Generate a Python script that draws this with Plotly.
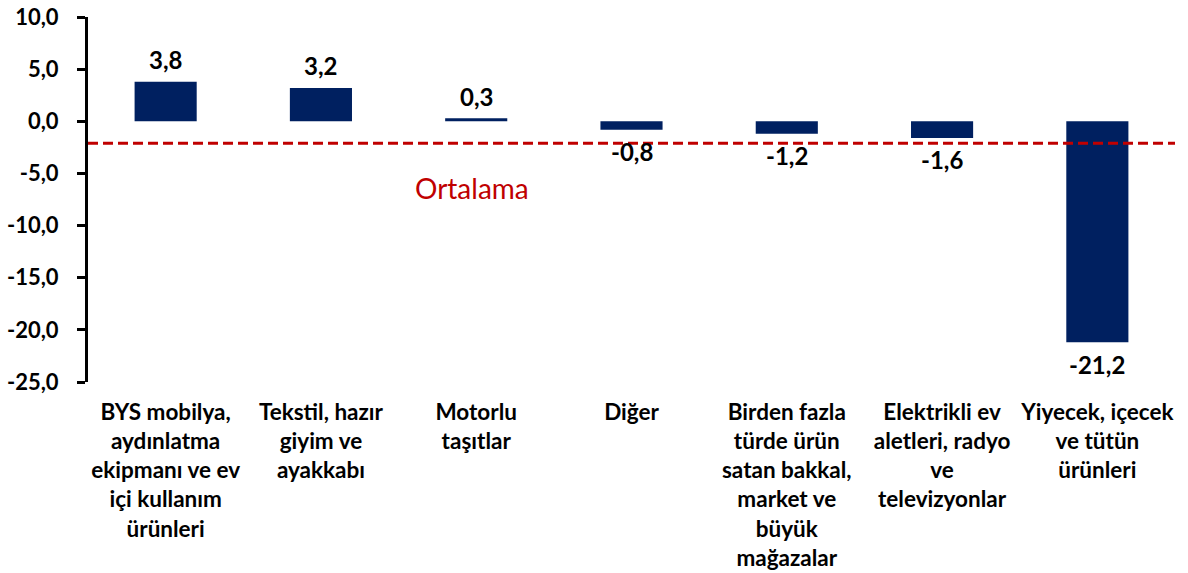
import plotly.graph_objects as go

categories = [
    "BYS mobilya,<br>aydınlatma<br>ekipmanı ve ev<br>içi kullanım<br>ürünleri",
    "Tekstil, hazır<br>giyim ve<br>ayakkabı",
    "Motorlu<br>taşıtlar",
    "Diğer",
    "Birden fazla<br>türde ürün<br>satan bakkal,<br>market ve<br>büyük<br>mağazalar",
    "Elektrikli ev<br>aletleri, radyo<br>ve<br>televizyonlar",
    "Yiyecek, içecek<br>ve tütün<br>ürünleri",
]
values = [3.8, 3.2, 0.3, -0.8, -1.2, -1.6, -21.2]
average_value = -2.1
average_label = "Ortalama"
y_ticks = [10, 5, 0, -5, -10, -15, -20, -25]
y_tick_labels = ["10,0", "5,0", "0,0", "-5,0", "-10,0", "-15,0", "-20,0", "-25,0"]

FONT = "Lato"
x_pos = list(range(len(categories)))
labels = [f"{v:.1f}".replace(".", ",") for v in values]

fig = go.Figure()
fig.add_trace(go.Bar(
    x=x_pos, y=values, width=0.4,
    marker=dict(color="#002060", line=dict(width=0)),
    showlegend=False, hoverinfo="skip",
))
# data labels
for xi, v, lab in zip(x_pos, values, labels):
    fig.add_annotation(
        x=xi, y=v, text=f"<b>{lab}</b>", showarrow=False,
        yanchor="middle", yshift=22 if v >= 0 else -22,
        font=dict(family=FONT, size=24, color="black"),
    )
# average dashed line
fig.add_trace(go.Scatter(
    x=[-0.5, len(categories) - 0.5], y=[average_value, average_value],
    mode="lines", line=dict(color="#C00000", width=3, dash="10px,5px"),
    showlegend=False, hoverinfo="skip",
))
fig.add_annotation(
    x=1.97, y=-6.4, text=average_label, showarrow=False,
    font=dict(family=FONT, size=28, color="#C00000"),
)

y_min, y_max = -25, 10
fig.update_layout(
    width=1188, height=573,
    margin=dict(l=88, r=13, t=17, b=191),
    plot_bgcolor="white", paper_bgcolor="white",
    xaxis=dict(
        range=[-0.5, len(categories) - 0.5],
        tickmode="array", tickvals=x_pos, ticktext=[f"<b>{c}</b>" for c in categories],
        showline=False, ticks="", showgrid=False, zeroline=False,
        tickfont=dict(family=FONT, size=22.5, color="black"),
        ticklabelstandoff=14, automargin=False, ticklabeloverflow="allow",
    ),
    xaxis2=dict(
        overlaying="x", anchor="free",
        position=(0 - y_min) / (y_max - y_min),
        range=[-0.5, len(categories) - 0.5],
        tickmode="array", tickvals=[i + 0.5 for i in range(len(categories) - 1)],
        showticklabels=False, ticks="outside", ticklen=7, tickwidth=3, tickcolor="black",
        showline=True, linewidth=2.5, linecolor="black", showgrid=False, zeroline=False,
        automargin=False,
    ),
    yaxis=dict(
        range=[y_min, y_max],
        tickmode="array", tickvals=y_ticks, ticktext=[f"<b>{t}</b>" for t in y_tick_labels],
        showline=True, linewidth=3, linecolor="black",
        ticks="outside", ticklen=8, tickwidth=3, tickcolor="black",
        showgrid=False, zeroline=False,
        tickfont=dict(family=FONT, size=22, color="black"),
        ticklabelstandoff=14, automargin=False, ticklabeloverflow="allow",
    ),
)
fig.write_html(
    "out.html",
    config={"displayModeBar": False},
    post_script="document.body.style.margin='0';",
)
